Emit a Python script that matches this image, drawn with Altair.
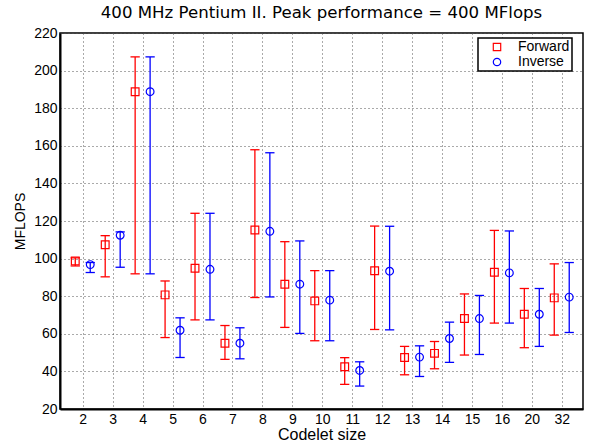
import altair as alt
import pandas as pd

categories = ["2", "3", "4", "5", "6", "7", "8", "9", "10", "11", "12", "13", "14", "15", "16", "20", "32"]

fwd_mean = [98.8, 107.4, 188.8, 80.7, 94.9, 55.0, 115.2, 86.4, 77.5, 42.5, 93.5, 47.4, 49.6, 68.1, 92.7, 70.4, 79.1]
fwd_lo = [96.1, 90.3, 91.9, 58.0, 67.4, 46.4, 79.3, 63.4, 56.3, 33.1, 62.3, 38.2, 41.4, 48.7, 65.7, 52.6, 59.3]
fwd_hi = [100.4, 112.2, 207.3, 88.1, 124.1, 64.4, 157.9, 109.0, 93.6, 47.3, 117.3, 53.3, 55.9, 81.2, 115.0, 84.1, 97.2]

inv_mean = [96.8, 112.4, 188.8, 61.9, 94.3, 55.0, 114.5, 86.4, 77.9, 40.5, 93.3, 47.6, 57.5, 68.1, 92.4, 70.4, 79.5]
inv_lo = [92.6, 95.4, 91.9, 47.4, 67.4, 46.7, 79.6, 60.2, 56.3, 32.2, 62.1, 37.3, 44.8, 49.0, 65.7, 53.3, 60.7]
inv_hi = [97.9, 114.2, 207.3, 68.5, 124.1, 63.2, 156.3, 109.4, 93.6, 45.1, 117.2, 53.6, 66.2, 80.4, 114.7, 84.1, 97.9]

series_names = ["Forward", "Inverse"]
y_ticks = [20, 40, 60, 80, 100, 120, 140, 160, 180, 200, 220]

rows = []
for k, cat in enumerate(categories):
    rows.append(dict(idx=k + 1, series="Forward", mean=fwd_mean[k], lo=fwd_lo[k], hi=fwd_hi[k]))
    rows.append(dict(idx=k + 1, series="Inverse", mean=inv_mean[k], lo=inv_lo[k], hi=inv_hi[k]))
df = pd.DataFrame(rows)

label_expr = "[" + ",".join("'%s'" % c for c in categories) + "][datum.value - 1]"

xscale = alt.Scale(domain=[0.24, 17.71], nice=False, zero=False)
yscale = alt.Scale(domain=[20, 220], nice=False, zero=False)

base = (
    alt.Chart(df)
    .transform_calculate(pos="datum.idx + (datum.series == 'Forward' ? -0.25 : 0.25)")
    .transform_calculate(cl="datum.pos - 0.155")
    .transform_calculate(cr="datum.pos + 0.155")
    .transform_calculate(col="datum.series == 'Forward' ? '#ff0000' : '#0000ff'")
)

x_axis = alt.Axis(
    values=list(range(1, 18)),
    labelExpr=label_expr,
    title="Codelet size",
    grid=True,
    labelPadding=3,
    titlePadding=0,
    titleFontSize=16,
)
y_axis = alt.Axis(
    values=y_ticks,
    title="MFLOPS",
    grid=True,
    labelPadding=3,
    titlePadding=6,
    titleFontSize=14,
)

bars = base.mark_rule(strokeWidth=1.3).encode(
    x=alt.X("pos:Q", scale=xscale, axis=x_axis),
    y=alt.Y("lo:Q", scale=yscale, axis=y_axis),
    y2="hi:Q",
    color=alt.Color("col:N", scale=None),
)

cap_hi = base.mark_rule(strokeWidth=1.3).encode(
    x=alt.X("cl:Q", scale=xscale, axis=x_axis),
    x2="cr:Q",
    y=alt.Y("hi:Q", scale=yscale, axis=y_axis),
    color=alt.Color("col:N", scale=None),
)

cap_lo = base.mark_rule(strokeWidth=1.3).encode(
    x=alt.X("cl:Q", scale=xscale, axis=x_axis),
    x2="cr:Q",
    y=alt.Y("lo:Q", scale=yscale, axis=y_axis),
    color=alt.Color("col:N", scale=None),
)

legend = alt.Legend(
    title=None,
    orient="none",
    legendX=418,
    legendY=5,
    padding=2,
    symbolOffset=10,
    labelOffset=14,
    rowPadding=1,
    strokeColor="black",
    fillColor="white",
    labelExpr="datum.label + '     '",
)

points = base.mark_point(filled=False, size=60, strokeWidth=1.2, opacity=1).encode(
    x=alt.X("pos:Q", scale=xscale, axis=x_axis),
    y=alt.Y("mean:Q", scale=yscale, axis=y_axis),
    color=alt.Color(
        "series:N",
        scale=alt.Scale(domain=series_names, range=["#ff0000", "#0000ff"]),
        legend=legend,
    ),
    shape=alt.Shape(
        "series:N",
        scale=alt.Scale(domain=series_names, range=["square", "circle"]),
        legend=legend,
    ),
)

chart = (
    alt.layer(bars, cap_hi, cap_lo, points)
    .properties(
        width=523,
        height=376,
        autosize="none",
        padding={"left": 60, "top": 33, "right": 7, "bottom": 36},
        title=alt.Title(
            "400 MHz Pentium II. Peak performance = 400 MFlops",
            font="DejaVu Sans",
            fontSize=16.6,
            fontWeight="normal",
            color="black",
            anchor="middle",
            offset=4,
        ),
    )
    .configure_view(stroke="black", strokeWidth=1.5)
    .configure_axis(
        labelFont="Liberation Sans",
        labelFontSize=14,
        labelColor="black",
        titleFont="Liberation Sans",
        titleFontWeight="normal",
        titleColor="black",
        domainColor="black",
        domainWidth=2,
        tickSize=0,
        gridColor="#555555",
        gridDash=[1, 3],
        gridWidth=1,
        gridOpacity=1,
    )
    .configure_legend(
        labelFont="Liberation Sans",
        labelFontSize=14,
        labelColor="black",
        strokeWidth=1.5,
        symbolSize=55,
        symbolStrokeWidth=1.2,
    )
)

chart.save("out.html", embed_options={"renderer": "svg", "actions": False})
